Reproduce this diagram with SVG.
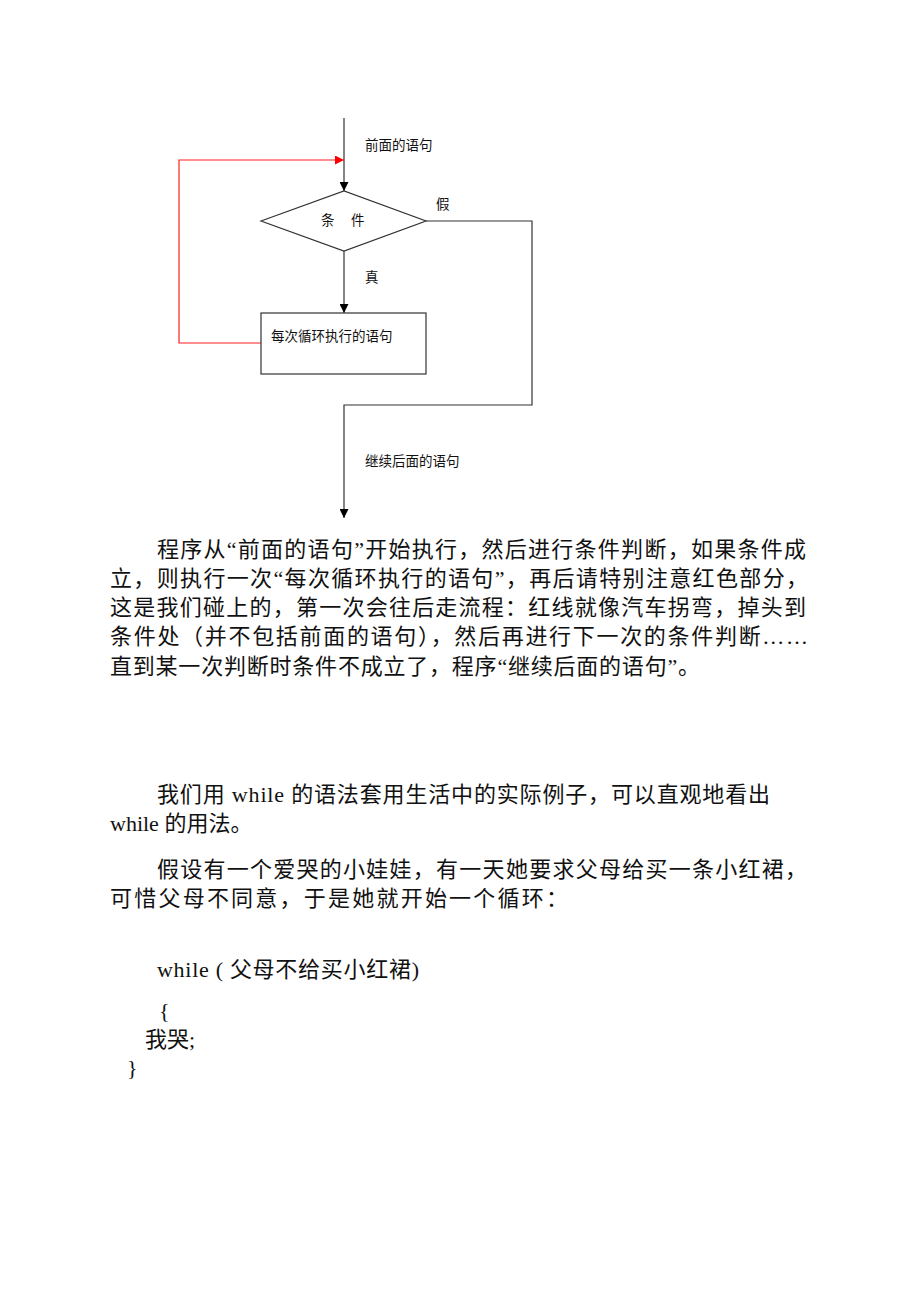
<svg xmlns="http://www.w3.org/2000/svg" width="920" height="1302" viewBox="0 0 920 1302">
<style>
.ln{fill:none;stroke:#333;stroke-width:1.2}
.red{fill:none;stroke:#ff2020;stroke-width:1.2}
.sm{font-family:"Noto Sans CJK SC",sans-serif;font-size:13.5px;fill:#111}
.body{font-family:"Liberation Serif","Noto Sans CJK SC",serif;font-size:22px;fill:#111}
</style>
<defs>
<marker id="ab" viewBox="0 0 10 10" refX="10" refY="5" markerWidth="9" markerHeight="9" markerUnits="userSpaceOnUse" orient="auto"><path d="M0,0 L10,5 L0,10 Z" fill="#000"/></marker>
<marker id="ar" viewBox="0 0 10 10" refX="10" refY="5" markerWidth="9" markerHeight="9" markerUnits="userSpaceOnUse" orient="auto"><path d="M0,0 L10,5 L0,10 Z" fill="#ff0000"/></marker>
</defs>
<rect width="920" height="1302" fill="#fff"/>
<g id="connectors">
<line class="ln" x1="344" y1="118" x2="344" y2="191" marker-end="url(#ab)"/>
<polyline class="red" points="261,343 179,343 179,160 344,160" marker-end="url(#ar)"/>
<line class="ln" x1="344" y1="251" x2="344" y2="313" marker-end="url(#ab)"/>
<polyline class="ln" points="426,221 532,221 532,405 344,405 344,518" marker-end="url(#ab)"/>
<text class="sm" x="365" y="150">前面的语句</text>
<text class="sm" x="436" y="209">假</text>
<text class="sm" x="365" y="282">真</text>
<text class="sm" x="365" y="466">继续后面的语句</text>
</g>
<g id="cond">
<polygon class="ln" points="261,221 344,191 426,221 344,251"/>
<text class="sm" x="321" y="225">条</text>
<text class="sm" x="351" y="225">件</text>
</g>
<g id="body">
<rect class="ln" x="261" y="313" width="165" height="61"/>
<text class="sm" x="271" y="341">每次循环执行的语句</text>
</g>
<g id="text">
<text class="body" x="157" y="557" textLength="649" lengthAdjust="spacing">程序从“前面的语句”开始执行，然后进行条件判断，如果条件成</text>
<text class="body" x="110" y="586" textLength="698" lengthAdjust="spacing">立，则执行一次“每次循环执行的语句”，再后请特别注意红色部分，</text>
<text class="body" x="110" y="615" textLength="696" lengthAdjust="spacing">这是我们碰上的，第一次会往后走流程：红线就像汽车拐弯，掉头到</text>
<text class="body" x="110" y="644" textLength="698" lengthAdjust="spacing">条件处（并不包括前面的语句），然后再进行下一次的条件判断……</text>
<text class="body" x="110" y="674" textLength="590" lengthAdjust="spacing">直到某一次判断时条件不成立了，程序“继续后面的语句”。</text>
<text class="body" x="157" y="802" textLength="613" lengthAdjust="spacing">我们用 while 的语法套用生活中的实际例子，可以直观地看出</text>
<text class="body" x="110" y="831">while 的用法。</text>
<text class="body" x="157" y="877" textLength="650" lengthAdjust="spacing">假设有一个爱哭的小娃娃，有一天她要求父母给买一条小红裙，</text>
<text class="body" x="110" y="906" textLength="458" lengthAdjust="spacing">可惜父母不同意，于是她就开始一个循环：</text>
<text class="body" x="157" y="977" textLength="262" lengthAdjust="spacing">while ( 父母不给买小红裙)</text>
<text class="body" x="159" y="1018">{</text>
<text class="body" x="145" y="1047">我哭;</text>
<text class="body" x="127" y="1075">}</text>
</g>
</svg>
